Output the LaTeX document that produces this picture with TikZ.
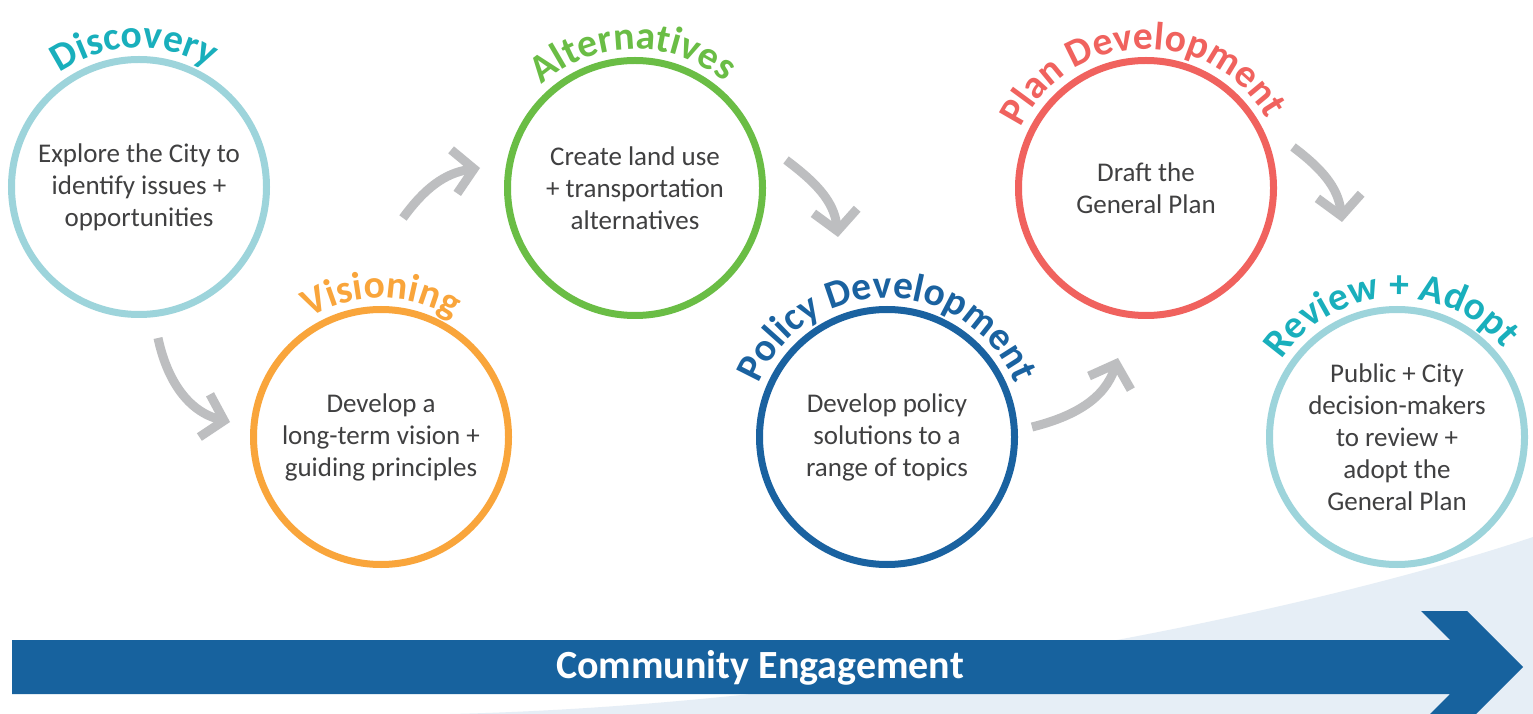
\documentclass[tikz,border=0pt]{standalone}
\usepackage{fontspec}
\setmainfont{Carlito}
\usetikzlibrary{arrows.meta,decorations.text}
\definecolor{tealc}{HTML}{9DD4DB}
\definecolor{tealt}{HTML}{19AFBC}
\definecolor{orangec}{HTML}{F9A53B}
\definecolor{greenc}{HTML}{6ABD45}
\definecolor{bluec}{HTML}{1A62A0}
\definecolor{redc}{HTML}{F0625E}
\definecolor{grayarr}{HTML}{BDBEC0}
\definecolor{txtgray}{HTML}{404041}
\definecolor{bgblue}{HTML}{E6EEF6}
\definecolor{bannerc}{HTML}{17629E}
\newcommand\ttlfont{\fontsize{39.5}{42}\selectfont\bfseries}
\newcommand\arctitle[4]{%
  \path[decorate,decoration={text along path,text align=center,
    text={|\ttlfont\color{#2}|#3}}]
    (#1.center) ++({#4+90}:139) arc[start angle={#4+90}, end angle={#4-90}, radius=139];}
\begin{document}
\begin{tikzpicture}[x=1pt,y=1pt,
  ring/.style={circle, draw, line width=7pt, minimum size=255pt, inner sep=0pt},
  body/.style={font=\fontsize{27}{32}\selectfont, text=txtgray, align=center, inner sep=0pt},
  flow/.style={draw=grayarr, line width=9pt, -{Straight Barb[length=20pt,width=44pt,line width=9pt]}},
  ]
\useasboundingbox (0,0) rectangle (1533,713);
\clip (0,0) rectangle (1533,713);
\fill[white] (0,0) rectangle (1533,713);
% background swoosh
\fill[bgblue] (450,-1) .. controls (850,8) and (1300,98) .. (1533,176) -- (1533,-1) -- cycle;

% circles
\node[ring, draw=tealc]   (disc) at (139,526) {};
\node[ring, draw=orangec] (vis)  at (381,276) {};
\node[ring, draw=greenc]  (alt)  at (635,525) {};
\node[ring, draw=bluec]   (pol)  at (887,276) {};
\node[ring, draw=redc]    (plan) at (1146,525) {};
\node[ring, draw=tealc]   (rev)  at (1397,276) {};

% body texts
\node[body] (disct) at (disc.center) {Explore the City to\\identify issues +\\opportunities};
\node[body] (vist)  at (vis.center)  {Develop a\\long-term vision +\\guiding principles};
\node[body] (altt)  at (alt.center)  {Create land use\\+ transportation\\alternatives};
\node[body] (polt)  at (pol.center)  {Develop policy\\solutions to a\\range of topics};
\node[body] (plant) at (plan.center) {Draft the\\General Plan};
\node[body] (revt)  at (rev.center)  {Public + City\\decision-makers\\to review +\\adopt the\\General Plan};

% titles
\arctitle{disc}{tealt}{Discovery}{92}
\arctitle{vis}{orangec}{Visioning}{90}
\arctitle{alt}{greenc}{Alternatives}{91}
\arctitle{pol}{bluec}{Policy Development}{90}
\arctitle{plan}{redc}{Plan Development}{92}
\arctitle{rev}{tealt}{Review + Adopt}{93}

% flow arrows
\coordinate (a1s) at (158,375);  \coordinate (a1e) at (230,291);
\coordinate (a2s) at (403,495);  \coordinate (a2e) at (480,545);
\coordinate (a3s) at (786,553);  \coordinate (a3e) at (838,476);
\coordinate (a4s) at (1032,286); \coordinate (a4e) at (1118,355);
\coordinate (a5s) at (1293,566); \coordinate (a5e) at (1342,491);
\draw[flow] (a1s) to[out=-78, in=166] (a1e);
\draw[flow] (a2s) to[out=54, in=188] (a2e);
\draw[flow] (a3s) to[out=-37, in=96] (a3e);
\draw[flow] (a4s) to[out=14, in=252] (a4e);
\draw[flow] (a5s) to[out=-37, in=96] (a5e);

% banner arrow
\fill[bannerc] (12,73) -- (1450,73) -- (1421,102) -- (1467,102) -- (1523,46)
  -- (1467,-10) -- (1421,-10) -- (1450,19) -- (12,19) -- cycle;
\node[font=\fontsize{40}{44}\selectfont\bfseries, text=white, anchor=base] (ce) at (760,35) {Community Engagement};
\end{tikzpicture}
\end{document}
